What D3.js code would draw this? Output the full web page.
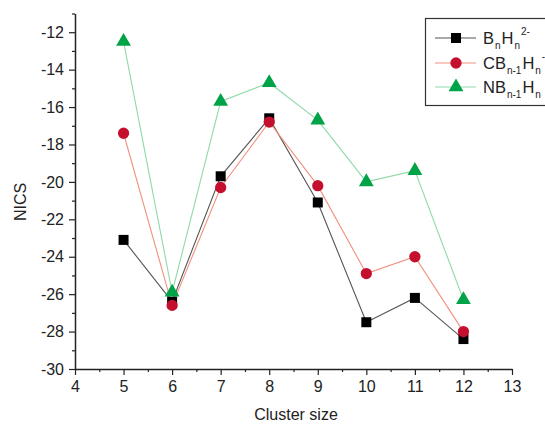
<!DOCTYPE html>
<html><head><meta charset="utf-8">
<script src="https://cdn.jsdelivr.net/npm/d3@7"></script>
<style>body{margin:0;background:#fff}svg{display:block;font-family:"Liberation Sans",Arial,sans-serif}</style>
</head><body>
<svg id="c" width="545" height="424"></svg>
<script>
const clusterSizes = [5, 6, 7, 8, 9, 10, 11, 12];
const bnhn = [-23.1, -26.4, -19.7, -16.6, -21.1, -27.5, -26.2, -28.4];
const cbhn = [-17.4, -26.6, -20.3, -16.8, -20.2, -24.9, -24.0, -28.0];
const nbhn = [-12.5, -25.9, -15.7, -14.7, -16.7, -20.0, -19.4, -26.3];
const xTicks = [4, 5, 6, 7, 8, 9, 10, 11, 12, 13];
const yTicks = [-30, -28, -26, -24, -22, -20, -18, -16, -14, -12];

const svg = d3.select("#c");
const x = d3.scaleLinear().domain([4, 13]).range([75, 512]);
const y = d3.scaleLinear().domain([-30, -11]).range([369, 13.5]);

// axes
const xMinor = d3.range(4.5, 13, 1);
const yMinor = d3.range(-29, -10.5, 2);
const gx = svg.append("g").attr("transform", `translate(0,${y(-30)})`);
gx.call(d3.axisBottom(x).tickValues(xTicks).tickFormat(d3.format("d")).tickSizeInner(6).tickSizeOuter(0).tickPadding(6));
gx.append("g").call(d3.axisBottom(x).tickValues(xMinor).tickFormat("").tickSize(3)).select(".domain").remove();
const gy = svg.append("g").attr("transform", `translate(${x(4)},0)`);
gy.call(d3.axisLeft(y).tickValues(yTicks).tickFormat(d=>d).tickSizeInner(6).tickSizeOuter(0).tickPadding(5));
gy.append("g").call(d3.axisLeft(y).tickValues(yMinor).tickFormat("").tickSize(3)).select(".domain").remove();
svg.selectAll(".domain").attr("stroke","#222").attr("stroke-width",1.5);
svg.selectAll(".tick line").attr("stroke","#222").attr("stroke-width",1.2);
svg.selectAll(".tick text").attr("font-size",16).attr("fill","#222").attr("font-family","Liberation Sans, Arial, sans-serif");

svg.append("text").attr("x",296).attr("y",420).attr("text-anchor","middle").attr("font-size",16).attr("fill","#222").text("Cluster size");
svg.append("text").attr("transform","translate(26,202) rotate(-90)").attr("text-anchor","middle").attr("font-size",16).attr("fill","#222").text("NICS");

const series = [
  {name:"B", vals:bnhn, line:"#555", fill:"#000", shape:d3.symbolSquare, size:100},
  {name:"C", vals:cbhn, line:"#f29080", fill:"#c4102e", shape:d3.symbolCircle, size:100},
  {name:"N", vals:nbhn, line:"#90d8a8", fill:"#00a348", shape:d3.symbolTriangle, size:95}
];
const line = d3.line().x((d,i)=>x(clusterSizes[i])).y(d=>y(d));
series.forEach(s=>{
  svg.append("path").attr("d",line(s.vals)).attr("fill","none").attr("stroke",s.line).attr("stroke-width",1.1);
});
series.forEach(s=>{
  svg.append("g").selectAll("path").data(s.vals).join("path")
    .attr("transform",(d,i)=>`translate(${x(clusterSizes[i])},${y(d)})`)
    .attr("d",d3.symbol().type(s.shape).size(s.size)).attr("fill",s.fill);
});

// legend
const lg = svg.append("g");
lg.append("rect").attr("x",425.5).attr("y",18.5).attr("width",130).attr("height",87).attr("fill","#fff").attr("stroke","#333").attr("stroke-width",1.2);
const rows = [38, 63, 87];
const labels = [
  [["B",0],["n",1],["H",0],["n",1],["2-",2]],
  [["CB",0],["n-1",1],["H",0],["n",1],["-",2]],
  [["NB",0],["n-1",1],["H",0],["n",1]]
];
series.forEach((s,i)=>{
  lg.append("line").attr("x1",435).attr("x2",476).attr("y1",rows[i]).attr("y2",rows[i]).attr("stroke",s.line).attr("stroke-width",1.1);
  lg.append("path").attr("transform",`translate(456,${rows[i]})`).attr("d",d3.symbol().type(s.shape).size(s.size)).attr("fill",s.fill);
  const t = lg.append("text").attr("x",483).attr("y",rows[i]+6).attr("font-size",16.5).attr("fill","#222");
  labels[i].forEach(([str,kind],j)=>{
    const ts = t.append("tspan").text(str).attr("dx", j===0 ? 0 : 1);
    if(kind===1) ts.attr("font-size",10).attr("baseline-shift","-50%");
    else if(kind===2) ts.attr("font-size",10).attr("baseline-shift","95%").attr("dx",1);
  });
});
</script>
</body></html>
